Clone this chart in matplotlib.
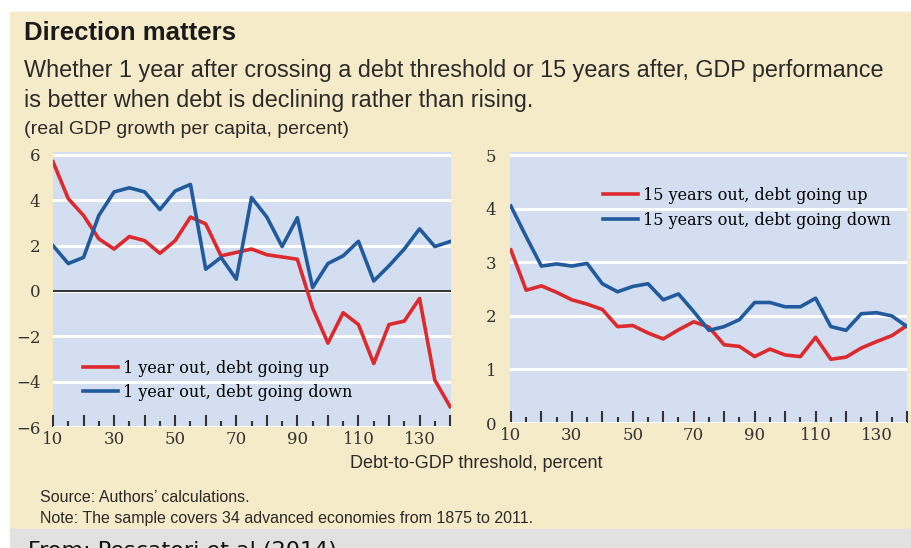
import matplotlib
matplotlib.use('Agg')
import matplotlib.pyplot as plt
from matplotlib.patches import Rectangle

# debt-to-GDP thresholds, percent
thresholds = list(range(10, 141, 5))

# 1 year after crossing
one_year_up = [5.7, 4.07, 3.33, 2.3, 1.85, 2.4, 2.22, 1.66, 2.22, 3.26, 2.96, 1.55, 1.7, 1.85,
               1.6, 1.5, 1.4, -0.75, -2.3, -0.96, -1.48, -3.2, -1.48, -1.33, -0.33, -3.93, -5.1]
one_year_down = [2.0, 1.21, 1.48, 3.33, 4.37, 4.55, 4.37, 3.59, 4.41, 4.7, 0.96, 1.48, 0.52, 4.12,
                 3.26, 1.96, 3.23, 0.15, 1.21, 1.55, 2.19, 0.44, 1.11, 1.85, 2.74, 1.96, 2.18]

# 15 years after crossing
fifteen_up = [3.23, 2.48, 2.56, 2.44, 2.30, 2.22, 2.12, 1.80, 1.82, 1.68, 1.57, 1.74, 1.89, 1.79,
              1.46, 1.43, 1.24, 1.38, 1.27, 1.24, 1.60, 1.19, 1.23, 1.40, 1.52, 1.63, 1.82]
fifteen_down = [4.05, 3.48, 2.93, 2.97, 2.93, 2.98, 2.60, 2.45, 2.55, 2.60, 2.30, 2.41, 2.08, 1.73,
                1.80, 1.93, 2.25, 2.25, 2.17, 2.17, 2.33, 1.80, 1.73, 2.04, 2.06, 2.00, 1.80]

left_yticks = [-6, -4, -2, 0, 2, 4, 6]
right_yticks = [0, 1, 2, 3, 4, 5]
xtick_labels = [10, 30, 50, 70, 90, 110, 130]

W, H = 912, 548
RED = '#dc2a2e'
BLUE = '#215b9d'
BEIGE = '#f6ebc8'
PANEL = '#d3def0'
TICKFONT = 'DejaVu Serif'
NARROW = 'Liberation Sans'


def box(x0, y0, x1, y1):
    # pixel box (top-left origin) -> figure fraction rect
    return [x0 / W, 1 - y1 / H, (x1 - x0) / W, (y1 - y0) / H]


def fx(x):
    return x / W


def fy(y):
    return 1 - y / H


fig = plt.figure(figsize=(W / 100, H / 100), dpi=100, facecolor='white')
fig.patches.append(Rectangle((fx(10), fy(529)), 1 - fx(10), fy(12) - fy(529),
                             transform=fig.transFigure, color=BEIGE, zorder=-10))
fig.patches.append(Rectangle((fx(10), 0), 1 - fx(10), fy(529),
                             transform=fig.transFigure, color='#e1e1e1', zorder=-10))


def style_axes(ax, yticks):
    ax.set_facecolor(PANEL)
    for s in ax.spines.values():
        s.set_visible(False)
    ax.set_xticks(range(10, 141, 10))
    ax.set_xticklabels([str(v) if v in xtick_labels else '' for v in range(10, 141, 10)])
    ax.set_xticks(range(15, 141, 10), minor=True)
    ax.tick_params(axis='x', which='major', direction='in', length=9, width=1.5,
                   color='#333333', pad=3, labelsize=12, labelcolor='#333333')
    ax.tick_params(axis='x', which='minor', direction='in', length=4.5, width=1.5,
                   color='#333333')
    ax.set_yticks(yticks)
    ax.tick_params(axis='y', length=0, pad=9, labelsize=12, labelcolor='#333333')
    for lab in ax.get_xticklabels() + ax.get_yticklabels():
        lab.set_fontfamily(TICKFONT)
    ax.grid(axis='y', color='white', linewidth=2.2)
    ax.set_axisbelow(True)


# left panel
ax1 = fig.add_axes(box(53, 152, 451, 427))
style_axes(ax1, left_yticks)
ax1.set_yticklabels(['\u22126', '\u22124', '\u22122', '0', '2', '4', '6'], family=TICKFONT)
ax1.axhline(0, color='#222222', linewidth=1.3, zorder=1.5)
ax1.plot(thresholds, one_year_up, color=RED, linewidth=2.6, label='1 year out, debt going up')
ax1.plot(thresholds, one_year_down, color=BLUE, linewidth=2.6, label='1 year out, debt going down')
ax1.set_xlim(10, 140.3)
ax1.set_ylim(-6, 6.13)
ax1.legend(loc='upper left', bbox_to_anchor=(0.075, 0.245), frameon=False, borderpad=0,
           borderaxespad=0, handlelength=2.2, handletextpad=0.3, labelspacing=0.45,
           prop={'family': TICKFONT, 'size': 11.5})

# right panel
ax2 = fig.add_axes(box(510, 152, 907, 423))
style_axes(ax2, right_yticks)
ax2.tick_params(axis='y', pad=10)
ax2.plot(thresholds, fifteen_up, color=RED, linewidth=2.6, label='15 years out, debt going up')
ax2.plot(thresholds, fifteen_down, color=BLUE, linewidth=2.6, label='15 years out, debt going down')
ax2.set_xlim(9.7, 140)
ax2.set_ylim(0, 5.06)
ax2.legend(loc='upper left', bbox_to_anchor=(0.234, 0.872), frameon=False, borderpad=0,
           borderaxespad=0, handlelength=2.2, handletextpad=0.3, labelspacing=0.5,
           prop={'family': TICKFONT, 'size': 11.5})

# titles and notes
fig.text(fx(24), fy(33), 'Direction matters', family=NARROW, weight='bold', fontsize=18.5,
         color='#1a1a1a', va='center')
fig.text(fx(24), fy(70), 'Whether 1 year after crossing a debt threshold or 15 years after, GDP performance',
         family=NARROW, fontsize=16.8, color='#2a2a2a', va='center')
fig.text(fx(24), fy(100), 'is better when debt is declining rather than rising.',
         family=NARROW, fontsize=16.8, color='#2a2a2a', va='center')
fig.text(fx(24), fy(130), '(real GDP growth per capita, percent)',
         family=NARROW, fontsize=14, color='#2a2a2a', va='center')
fig.text(fx(476), fy(463), 'Debt-to-GDP threshold, percent',
         family=NARROW, fontsize=13, color='#2a2a2a', va='center', ha='center')
fig.text(fx(40), fy(497), 'Source: Authors\u2019 calculations.',
         family=NARROW, fontsize=11.5, color='#2a2a2a', va='center')
fig.text(fx(40), fy(519), 'Note: The sample covers 34 advanced economies from 1875 to 2011.',
         family=NARROW, fontsize=11.5, color='#2a2a2a', va='center')
fig.text(fx(28), fy(541), 'From: Pescatori et al (2014)', fontsize=16, color='#111111', va='top')

fig.savefig('out.png', dpi=100, facecolor='white')
